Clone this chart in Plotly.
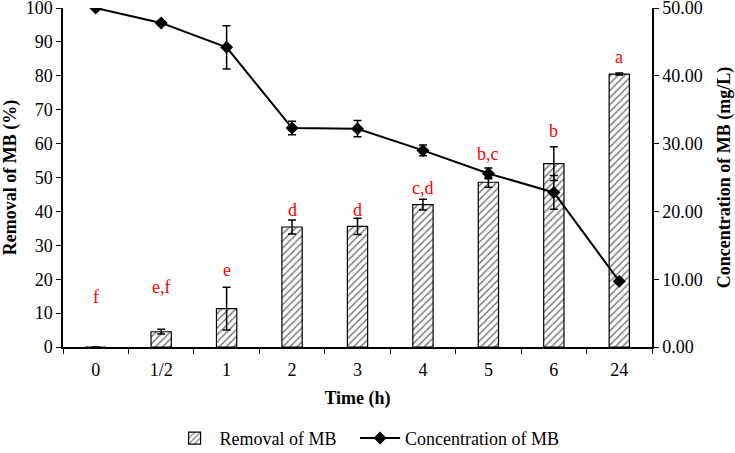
import plotly.graph_objects as go

time_labels = ["0", "1/2", "1", "2", "3", "4", "5", "6", "24"]
removal = [0.0, 4.5, 11.3, 35.4, 35.6, 42.0, 48.6, 54.1, 80.5]
removal_err = [0.0, 0.7, 6.3, 2.1, 2.4, 1.6, 1.5, 5.0, 0.3]
concentration = [50.0, 47.8, 44.2, 32.3, 32.2, 29.0, 25.6, 22.8, 9.7]
concentration_err = [0.0, 0.3, 3.2, 1.0, 1.2, 0.8, 0.8, 2.5, 0.2]
letters = ["f", "e,f", "e", "d", "d", "c,d", "b,c", "b", "a"]
letter_y = [14.7, 17.6, 22.6, 40.5, 40.5, 46.9, 56.9, 63.6, 85.6]
left_ticks = [0, 10, 20, 30, 40, 50, 60, 70, 80, 90, 100]
right_ticks = [0, 10, 20, 30, 40, 50]

FONT = "Liberation Serif, Times New Roman, serif"
FS = 18

idx = list(range(len(time_labels)))

fig = go.Figure()
fig.add_trace(go.Bar(
    x=idx, y=removal, name="Removal of MB" + "\u00a0" * 3,
    marker=dict(color="white", line=dict(color="black", width=1.2),
                pattern=dict(shape="/", fgcolor="black", bgcolor="white", size=5, solidity=0.3)),
    error_y=dict(type="data", array=removal_err, color="black", thickness=1.5, width=4),
    width=0.31,
))
fig.add_trace(go.Scatter(
    x=idx, y=concentration, name="Concentration of MB", yaxis="y2",
    mode="lines+markers",
    line=dict(color="black", width=2),
    marker=dict(symbol="diamond", size=10, color="black"),
    error_y=dict(type="data", array=concentration_err, color="black", thickness=1.5, width=4),
))

for i, (t, yv) in enumerate(zip(letters, letter_y)):
    fig.add_annotation(x=i, y=yv, text=t, showarrow=False, xref="x", yref="y",
                       font=dict(family=FONT, size=FS, color="red"))

fig.update_layout(
    width=735, height=453,
    margin=dict(l=63, r=83, t=8, b=106, autoexpand=False),
    paper_bgcolor="white", plot_bgcolor="white",
    font=dict(family=FONT, size=FS, color="black"),
    showlegend=True,
    legend=dict(orientation="h", x=133 / 735, xref="paper", xanchor="left",
                y=-0.215, yanchor="top",
                font=dict(family=FONT, size=FS), itemwidth=40, tracegroupgap=0),
    xaxis=dict(
        range=[-0.5, 8.5], automargin=False,
        tickmode="array", tickvals=idx, ticktext=time_labels,
        showline=True, linecolor="black", linewidth=1.5,
        ticks="", showgrid=False, zeroline=False,
        ticklabelstandoff=6,
        title=dict(text="<b>Time (h)</b>", font=dict(family=FONT, size=FS), standoff=12),
        tickfont=dict(family=FONT, size=FS),
        minor=dict(tickmode="array", tickvals=[i - 0.5 for i in range(len(time_labels) + 1)],
                   ticks="outside", ticklen=5, tickcolor="black", showgrid=False),
    ),
    yaxis=dict(
        range=[0, 100], tickmode="array", tickvals=left_ticks, automargin=False,
        showline=True, linecolor="black", linewidth=1.5,
        ticks="outside", ticklen=5, tickcolor="black",
        showgrid=False, zeroline=False, ticklabeloverflow="allow",
        title=dict(text="<b>Removal of MB (%)</b>", font=dict(family=FONT, size=FS), standoff=12),
        tickfont=dict(family=FONT, size=FS),
    ),
    yaxis2=dict(
        range=[0, 50], tickmode="array", tickvals=right_ticks, automargin=False,
        ticktext=[f"{v:.2f}" for v in right_ticks],
        overlaying="y", side="right",
        showline=True, linecolor="black", linewidth=1.5,
        ticks="outside", ticklen=5, tickcolor="black",
        showgrid=False, zeroline=False, ticklabeloverflow="allow",
        title=dict(text="<b>Concentration of MB (mg/L)</b>", font=dict(family=FONT, size=FS), standoff=18),
        tickfont=dict(family=FONT, size=FS),
    ),
)

fig.write_html("out.html", config={"displayModeBar": False},
               post_script="document.body.style.margin='0';document.body.style.padding='0';")
